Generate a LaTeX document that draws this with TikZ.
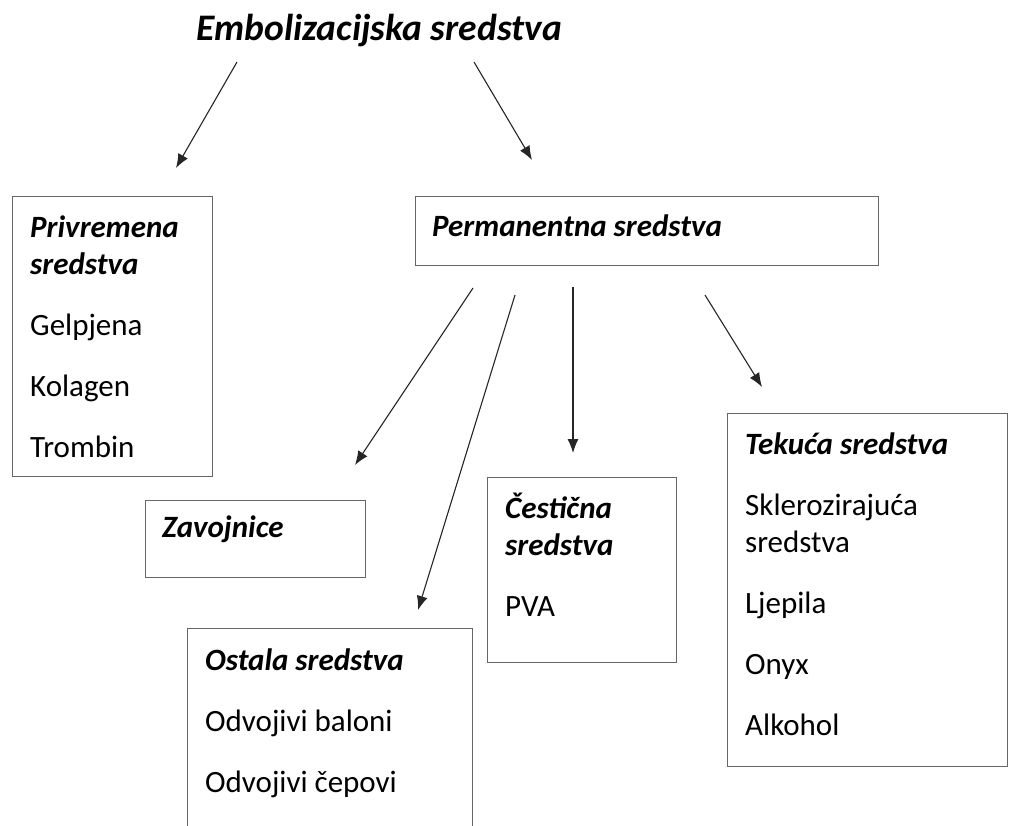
\documentclass[tikz,border=0pt]{standalone}
\usepackage{fontspec}
\setmainfont{Carlito}
\usetikzlibrary{arrows.meta}
\tikzset{
  okvir/.style={draw=black!60,line width=1.4pt,anchor=north west,inner sep=0pt},
  tekst/.style={anchor=north west,inner sep=0pt,align=left,font=\fontsize{31}{37}\selectfont},
  strelica/.style={-{Latex[length=14pt,width=11pt]},line width=1.1pt,color=black!85}
}
\newcommand{\naslov}[1]{\textbf{\textit{#1}}}
\begin{document}
\begin{tikzpicture}[x=1pt,y=-1pt]
\useasboundingbox[fill=white] (0,0) rectangle (1009,825);
%
% naslov
\node[inner sep=0pt,anchor=base,font=\fontsize{37.5}{44}\selectfont] (emb) at (379,40) {\naslov{Embolizacijska sredstva}};
%
% okviri
\node[okvir,minimum width=200,minimum height=280] (privremena) at (12,196) {};
\node[okvir,minimum width=463,minimum height=69] (permanentna) at (415,196) {};
\node[okvir,minimum width=220,minimum height=77] (zavojnice) at (145,500) {};
\node[okvir,minimum width=285,minimum height=210] (ostala) at (187,628) {};
\node[okvir,minimum width=189,minimum height=185] (cesticna) at (487,477) {};
\node[okvir,minimum width=280,minimum height=353] (tekuca) at (727,413) {};
%
% tekstovi
\node[tekst] (privremena-t) at (30,211) {\strut\naslov{Privremena}\\\naslov{sredstva}\\[24pt]Gelpjena\\[24pt]Kolagen\\[24pt]Trombin};
\node[tekst] (permanentna-t) at (432,210) {\strut\naslov{Permanentna sredstva}};
\node[tekst] (zavojnice-t) at (162,511) {\strut\naslov{Zavojnice}};
\node[tekst] (cesticna-t) at (505,492) {\strut\naslov{Čestična}\\\naslov{sredstva}\\[24pt]PVA};
\node[tekst] (ostala-t) at (205,644) {\strut\naslov{Ostala sredstva}\\[24pt]Odvojivi baloni\\[24pt]Odvojivi čepovi};
\node[tekst] (tekuca-t) at (745,428) {\strut\naslov{Tekuća sredstva}\\[24pt]Sklerozirajuća\\sredstva\\[24pt]Ljepila\\[24pt]Onyx\\[24pt]Alkohol};
%
% strelice
\coordinate (emb-l) at (237,62);   \coordinate (privremena-v) at (176,168);
\coordinate (emb-d) at (474,62);   \coordinate (permanentna-v) at (532,160);
\coordinate (perm-1) at (473,288); \coordinate (zavojnice-v) at (355,465);
\coordinate (perm-2) at (515,295); \coordinate (ostala-v) at (418,610);
\coordinate (perm-3) at (573,287); \coordinate (cesticna-v) at (573,453);
\coordinate (perm-4) at (705,295); \coordinate (tekuca-v) at (762,387);
\foreach \od/\do in {emb-l/privremena-v,emb-d/permanentna-v,perm-1/zavojnice-v,%
perm-2/ostala-v,perm-3/cesticna-v,perm-4/tekuca-v}
\draw[strelica] (\od) -- (\do);
\end{tikzpicture}
\end{document}
